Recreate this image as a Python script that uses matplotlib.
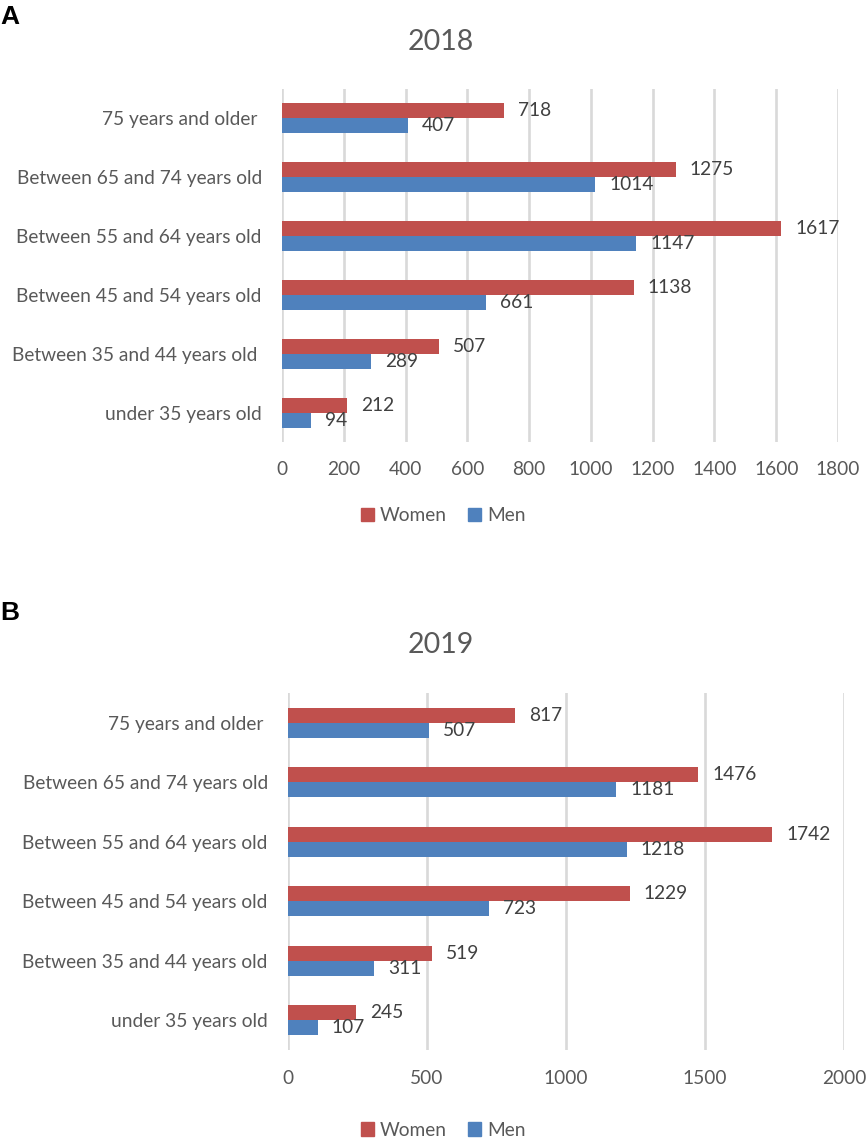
import matplotlib
matplotlib.use("Agg")
import matplotlib.pyplot as plt
from matplotlib.patches import Patch
import numpy as np

plt.rcParams['font.family'] = ['Lato', 'DejaVu Sans']

categories_2018 = ["under 35 years old", "Between 35 and 44 years old ", "Between 45 and 54 years old",
                   "Between 55 and 64 years old", "Between 65 and 74 years old", "75 years and older "]
categories_2019 = ["under 35 years old", "Between 35 and 44 years old", "Between 45 and 54 years old",
                   "Between 55 and 64 years old", "Between 65 and 74 years old", "75 years and older "]
women_2018 = [212, 507, 1138, 1617, 1275, 718]
men_2018 = [94, 289, 661, 1147, 1014, 407]
women_2019 = [245, 519, 1229, 1742, 1476, 817]
men_2019 = [107, 311, 723, 1218, 1181, 507]
ticks_2018 = [0, 200, 400, 600, 800, 1000, 1200, 1400, 1600, 1800]
ticks_2019 = [0, 500, 1000, 1500, 2000]

RED = "#C0504D"
BLUE = "#4F81BD"
TXT = "#595959"
VAL = "#404040"
GRID = "#D9D9D9"

W, H = 867, 1143
fig = plt.figure(figsize=(W/100, H/100), dpi=100)
FS = 13.8

def panel(rect, cats, women, men, ticks, title, letter, title_y, letter_y, legend_y, tick_pad):
    ax = fig.add_axes(rect)
    y = np.arange(len(cats))
    h = 0.255
    bw = ax.barh(y + h/2, women, height=h, color=RED, label="Women")
    bm = ax.barh(y - h/2, men, height=h, color=BLUE, label="Men")
    ax.bar_label(bw, padding=10, fontsize=FS, color=VAL)
    ax.bar_label(bm, padding=10, fontsize=FS, color=VAL)
    ax.set_ylim(-0.5, len(cats) - 0.5)
    ax.set_xlim(ticks[0], ticks[-1])
    ax.set_xticks(ticks)
    ax.set_xticklabels([str(t) for t in ticks])
    ax.set_yticks(y)
    ax.set_yticklabels(cats)
    for s in ax.spines.values():
        s.set_visible(False)
    ax.tick_params(axis='both', length=0, labelsize=FS, labelcolor=TXT)
    ax.tick_params(axis='y', pad=14.5)
    ax.tick_params(axis='x', pad=tick_pad)
    ax.set_axisbelow(True)
    ax.xaxis.grid(True, color=GRID, linewidth=1.9)
    ax.yaxis.grid(False)
    fig.text(441/W, 1 - title_y/H, title, ha='center', va='center', fontsize=20.5, color=TXT)
    fig.text(0.0, 1 - letter_y/H, letter, ha='left', va='center', fontsize=19,
             fontweight='bold', family='Liberation Sans', color='black')
    handles = [Patch(color=RED, label="Women"), Patch(color=BLUE, label="Men")]
    leg = fig.legend(handles=handles, loc='center', bbox_to_anchor=(443/W, 1 - legend_y/H),
                     ncol=2, frameon=False, fontsize=FS, handlelength=0.7, handleheight=0.7,
                     handletextpad=0.3, columnspacing=1.1)
    for t in leg.get_texts():
        t.set_color(TXT)
    return ax

panel([282/W, 1 - 442/H, 556/W, 353/H], categories_2018, women_2018, men_2018, ticks_2018,
      "2018", "A", 42, 17, 516, 14)
panel([288/W, 1 - 1050/H, 556/W, 357/H], categories_2019, women_2019, men_2019, ticks_2019,
      "2019", "B", 645, 613, 1130, 14.5)

fig.savefig("out.png", dpi=100)
